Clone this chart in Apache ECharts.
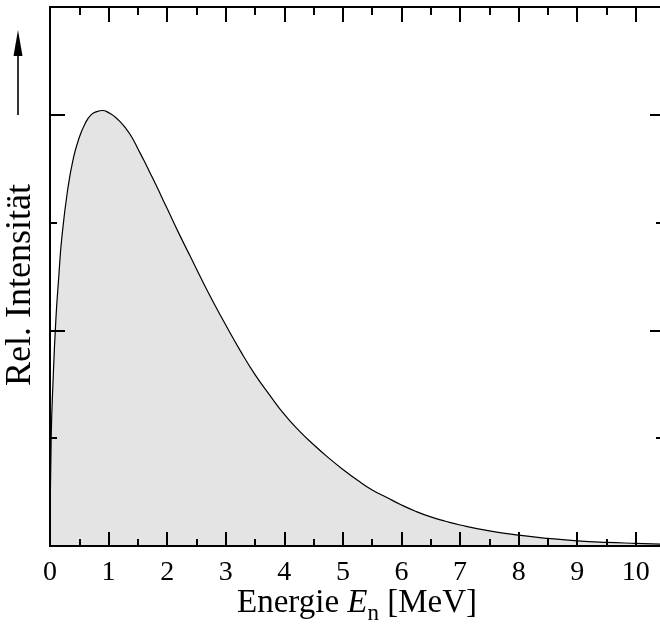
<!DOCTYPE html>
<html><head><meta charset="utf-8">
<script src="https://cdn.jsdelivr.net/npm/echarts@6/dist/echarts.min.js"></script>
<style>html,body{margin:0;padding:0;background:#fff}#c{width:660px;height:630px}</style>
</head><body><div id="c"></div>
<script>
// Energy values (MeV)
const energies = [0, 0.02, 0.05, 0.1, 0.15, 0.2, 0.3, 0.4, 0.5, 0.6, 0.7, 0.8, 0.9, 1.0, 1.1, 1.2, 1.3, 1.4, 1.5, 1.6, 1.7, 1.8, 1.9, 2.0, 2.2, 2.4, 2.6, 2.8, 3.0, 3.25, 3.5, 3.75, 4.0, 4.25, 4.5, 4.75, 5.0, 5.25, 5.5, 5.75, 6.0, 6.25, 6.5, 6.75, 7.0, 7.5, 8.0, 8.5, 9.0, 9.5, 10.0, 10.43];
// Relative intensity (arbitrary units, y-axis ticks every 1 unit)
const intensity = [0, 1.0, 1.5, 2.1, 2.5, 2.85, 3.3, 3.6, 3.79, 3.92, 4.0, 4.03, 4.04, 4.02, 3.985, 3.935, 3.87, 3.79, 3.685, 3.58, 3.47, 3.36, 3.245, 3.13, 2.90, 2.68, 2.46, 2.25, 2.05, 1.81, 1.59, 1.40, 1.22, 1.07, 0.94, 0.82, 0.71, 0.61, 0.52, 0.45, 0.38, 0.32, 0.27, 0.23, 0.195, 0.14, 0.10, 0.07, 0.048, 0.034, 0.025, 0.018];
const xTickLabels = ['0','1','2','3','4','5','6','7','8','9','10'];
const xMin = 0, xMax = 10.43, yMin = 0, yMax = 5;

const FONT = 'Liberation Serif';
const chart = echarts.init(document.getElementById('c'), null, {renderer: 'canvas'});

function xAx(pos, interval, len, labels) {
  return {
    type: 'value', position: pos, min: xMin, max: xMax, interval: interval, offset: 0, z: 5,
    axisLine: {show: true, onZero: false, lineStyle: {color: '#000', width: 1.8}},
    axisTick: {show: true, inside: true, length: len, lineStyle: {color: '#000', width: 2}},
    axisLabel: labels ? {show: true, margin: 13, color: '#000', fontFamily: FONT, fontSize: 28,
      showMaxLabel: false,
      formatter: v => (Number.isInteger(v) && v >= 0 && v < xTickLabels.length) ? xTickLabels[v] : ''} : {show: false},
    splitLine: {show: false}
  };
}
function yAx(pos, interval, len) {
  return {
    type: 'value', position: pos, min: yMin, max: yMax, interval: interval, offset: 0, z: 5,
    axisLine: {show: pos === 'left', onZero: false, lineStyle: {color: '#000', width: 2}},
    axisTick: {show: true, inside: true, length: len, lineStyle: {color: '#000', width: 2}},
    axisLabel: {show: false},
    splitLine: {show: false}
  };
}

chart.setOption({
  animation: false,
  backgroundColor: '#fff',
  grid: {left: 50, top: 7, width: 611, height: 539, containLabel: false, outerBoundsMode: 'none'},
  xAxis: [xAx('bottom', 1, 14, true), xAx('bottom', 0.5, 7, false), xAx('top', 1, 15, false), xAx('top', 0.5, 8, false)],
  yAxis: [yAx('left', 2, 15), yAx('left', 1, 7), yAx('right', 2, 11), yAx('right', 1, 5)],
  series: [{
    type: 'line', xAxisIndex: 0, yAxisIndex: 0,
    data: energies.map((e, i) => [e, intensity[i]]),
    symbol: 'none', smooth: 0.5, z: 2,
    lineStyle: {color: '#000', width: 1.2},
    areaStyle: {color: '#e4e4e4', opacity: 1}
  }],
  graphic: [
    {type: 'text', z: 10, style: {
      text: '{a|Energie }{i|E}{s|n}{a| [MeV]}',
      x: 357, y: 603, align: 'center', verticalAlign: 'middle', fill: '#000',
      rich: {
        a: {fontFamily: FONT, fontSize: 33, fill: '#000'},
        i: {fontFamily: FONT, fontSize: 33, fontStyle: 'italic', fill: '#000'},
        s: {fontFamily: FONT, fontSize: 23, fill: '#000', padding: [22, 0, 0, 0]}
      }
    }},
    {type: 'text', z: 10, x: 21, y: 285, rotation: Math.PI / 2, style: {
      text: 'Rel. Intensität', x: 0, y: 0, align: 'center', verticalAlign: 'middle',
      fontFamily: FONT, fontSize: 36, fill: '#000'
    }},
    {type: 'line', z: 10, shape: {x1: 18, y1: 115, x2: 18, y2: 50}, style: {stroke: '#000', lineWidth: 1.6}},
    {type: 'polygon', z: 10, shape: {points: [[18, 30], [13.5, 56], [22.5, 56]]}, style: {fill: '#000'}}
  ]
});
</script></body></html>
